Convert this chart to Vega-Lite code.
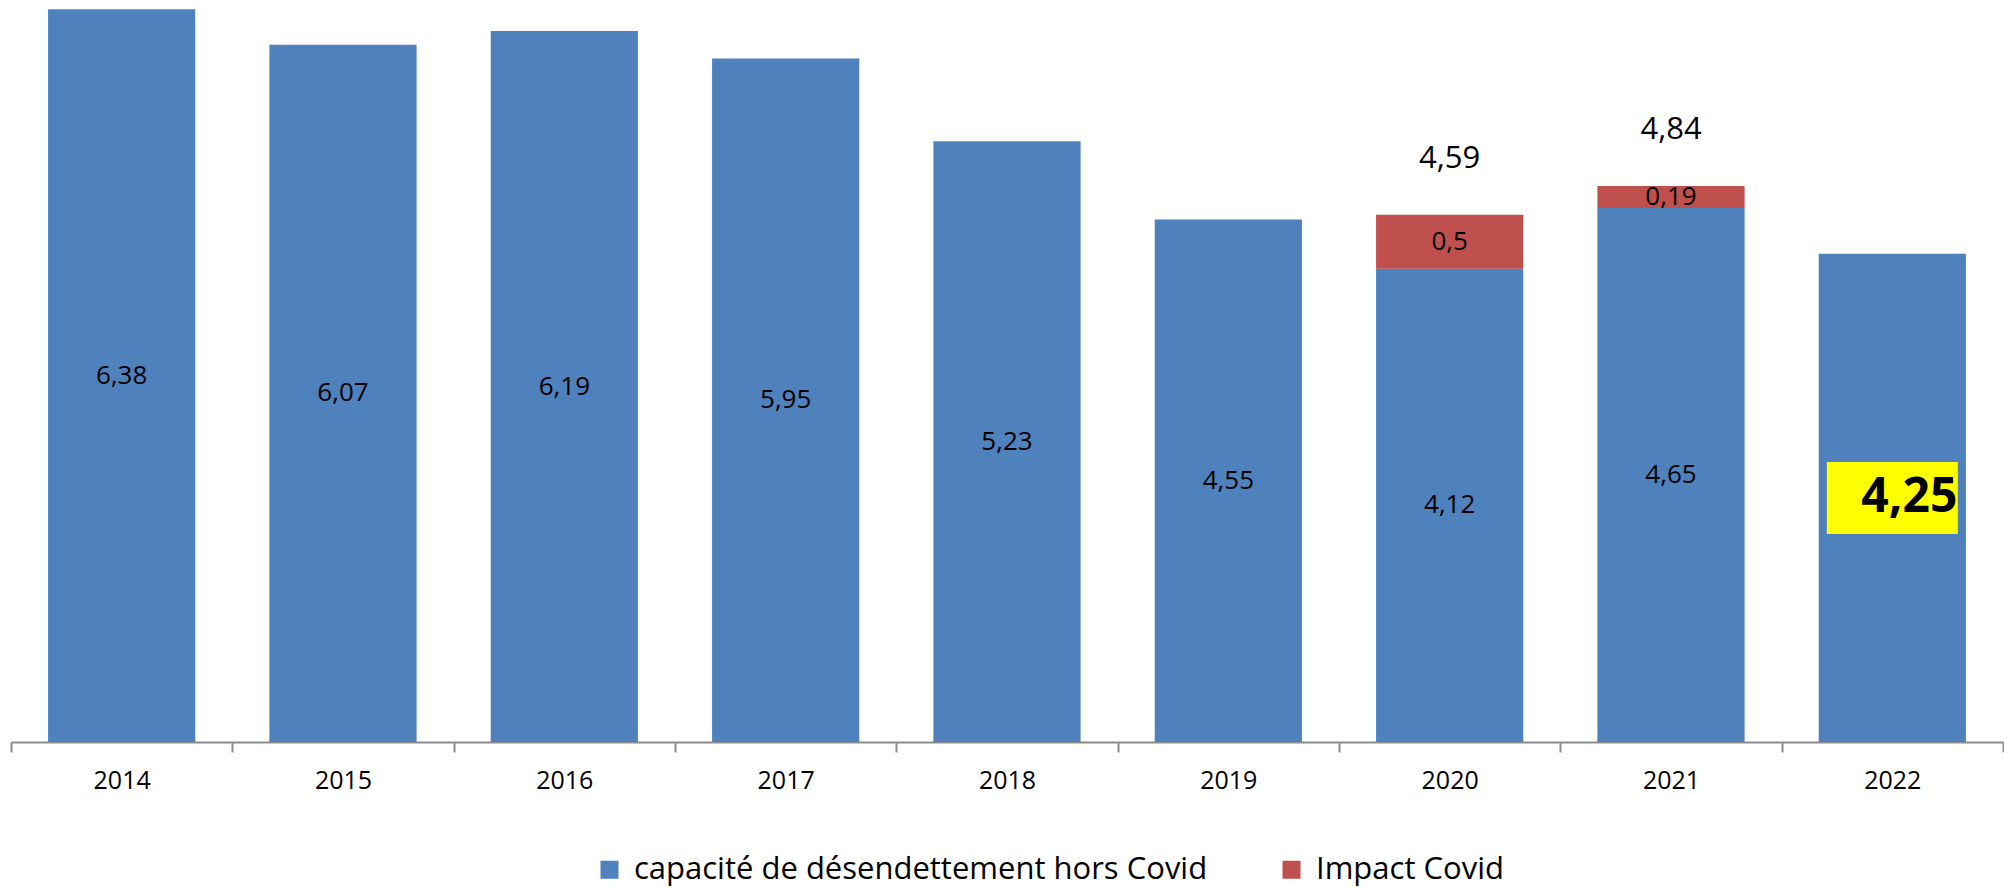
{
  "$schema": "https://vega.github.io/schema/vega-lite/v6.json",
  "width": 1992,
  "height": 742,
  "padding": {"left": 11, "top": 0, "right": 1, "bottom": 145},
  "autosize": {"type": "none"},
  "background": "white",
  "config": {"view": {"stroke": null}, "font": "Open Sans"},
  "data": {
    "values": [
      {"year": "2014", "series": "capacité de désendettement hors Covid", "value": 6.38, "label": "6,38"},
      {"year": "2015", "series": "capacité de désendettement hors Covid", "value": 6.07, "label": "6,07"},
      {"year": "2016", "series": "capacité de désendettement hors Covid", "value": 6.19, "label": "6,19"},
      {"year": "2017", "series": "capacité de désendettement hors Covid", "value": 5.95, "label": "5,95"},
      {"year": "2018", "series": "capacité de désendettement hors Covid", "value": 5.23, "label": "5,23"},
      {"year": "2019", "series": "capacité de désendettement hors Covid", "value": 4.55, "label": "4,55"},
      {"year": "2020", "series": "capacité de désendettement hors Covid", "value": 4.12, "label": "4,12"},
      {"year": "2020", "series": "Impact Covid", "value": 0.47, "label": "0,5"},
      {"year": "2021", "series": "capacité de désendettement hors Covid", "value": 4.65, "label": "4,65"},
      {"year": "2021", "series": "Impact Covid", "value": 0.19, "label": "0,19"},
      {"year": "2022", "series": "capacité de désendettement hors Covid", "value": 4.25, "label": "4,25"}
    ]
  },
  "transform": [
    {"stack": "value", "groupby": ["year"], "sort": [{"field": "series", "order": "descending"}], "as": ["v0", "v1"]},
    {"calculate": "(datum.v0 + datum.v1) / 2", "as": "mid"}
  ],
  "layer": [
    {
      "mark": {"type": "bar", "width": {"band": 0.665}},
      "encoding": {
        "x": {
          "field": "year", "type": "ordinal",
          "scale": {"paddingInner": 0, "paddingOuter": 0},
          "axis": {
            "title": null, "labelAngle": 0, "labelFontSize": 25, "labelColor": "black", "labelFont": "Open Sans",
            "domainColor": "#8c8c8c", "domainWidth": 2, "tickColor": "#8c8c8c", "tickWidth": 2, "tickSize": 10,
            "tickBand": "extent", "labelPadding": 16, "grid": false
          }
        },
        "y": {"field": "v0", "type": "quantitative", "scale": {"domain": [0, 6.46], "nice": false}, "axis": null},
        "y2": {"field": "v1"},
        "color": {
          "field": "series", "type": "nominal",
          "scale": {"domain": ["capacité de désendettement hors Covid", "Impact Covid"], "range": ["#4F81BD", "#C0504D"]},
          "legend": {
            "orient": "none", "legendX": 583, "legendY": 854, "direction": "horizontal", "title": null,
            "symbolType": "square", "symbolSize": 324, "labelFontSize": 31, "labelFont": "Open Sans", "labelColor": "black",
            "labelOffset": 9, "columnPadding": 68, "symbolStrokeWidth": 0, "labelLimit": 0
          }
        }
      }
    },
    {
      "transform": [{"filter": "datum.year != '2022'"}],
      "mark": {"type": "text", "fontSize": 26, "color": "black"},
      "encoding": {
        "x": {"field": "year", "type": "ordinal"},
        "y": {"field": "mid", "type": "quantitative"},
        "text": {"field": "label"}
      }
    },
    {
      "transform": [{"filter": "datum.year == '2022'"}],
      "mark": {"type": "point", "shape": "M-1,-0.55L1,-0.55L1,0.55L-1,0.55Z", "size": 17161, "filled": true, "color": "#FFFF00", "opacity": 1, "strokeWidth": 0},
      "encoding": {
        "x": {"field": "year", "type": "ordinal"},
        "y": {"field": "mid", "type": "quantitative"}
      }
    },
    {
      "transform": [{"filter": "datum.year == '2022'"}],
      "mark": {"type": "text", "fontSize": 48, "fontWeight": "bold", "align": "right", "dx": 65, "color": "black"},
      "encoding": {
        "x": {"field": "year", "type": "ordinal"},
        "y": {"field": "mid", "type": "quantitative"},
        "text": {"field": "label"}
      }
    },
    {
      "transform": [
        {"aggregate": [{"op": "sum", "field": "value", "as": "total"}, {"op": "count", "as": "n"}], "groupby": ["year"]},
        {"filter": "datum.n > 1"},
        {"calculate": "replace(format(datum.total, '.2f'), '.', ',')", "as": "tl"}
      ],
      "mark": {"type": "text", "fontSize": 31, "dy": -56, "color": "black"},
      "encoding": {
        "x": {"field": "year", "type": "ordinal"},
        "y": {"field": "total", "type": "quantitative"},
        "text": {"field": "tl"}
      }
    }
  ]
}
